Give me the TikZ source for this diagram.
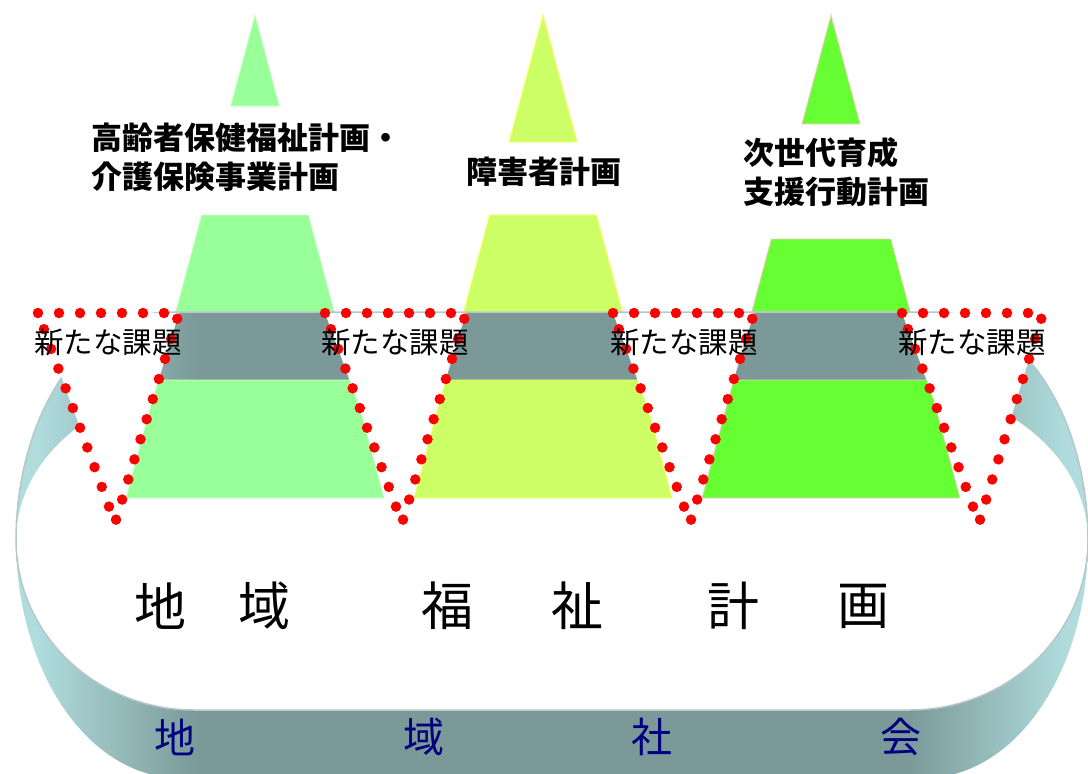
\documentclass[tikz,border=0pt]{standalone}
\usepackage{fontspec}
\newfontfamily\jp{Noto Sans CJK JP}
\usetikzlibrary{calc}
\definecolor{ringlight}{HTML}{B0DCDD}
\definecolor{ringdark}{HTML}{7A9998}
\definecolor{rimline}{HTML}{B8C8C8}
\definecolor{pgA}{HTML}{99FF99}
\definecolor{pgB}{HTML}{CCFF66}
\definecolor{pgC}{HTML}{66FF33}
\definecolor{edgeA}{HTML}{CCFFCC}
\definecolor{edgeB}{HTML}{FFFF55}
\definecolor{edgeC}{HTML}{FFC8C8}
\definecolor{dotred}{HTML}{FF0000}
\definecolor{navyblue}{HTML}{000080}
\pgfdeclarehorizontalshading{ringshade}{100bp}{color(0bp)=(ringlight); color(26bp)=(ringlight); color(33.5bp)=(ringdark); color(66.5bp)=(ringdark); color(74bp)=(ringlight); color(100bp)=(ringlight)}
\newcommand{\toprimpath}{(169,312) -- plot[domain=270:180,samples=40] ({169+153*cos(\x)},{540+228*sin(\x)}) -- plot[domain=180:90,samples=40] ({194+178*cos(\x)},{540+170*sin(\x)}) -- plot[domain=90:0,samples=40] ({910+178*cos(\x)},{540+170*sin(\x)}) -- plot[domain=360:270,samples=40] ({935+153*cos(\x)},{540+228*sin(\x)}) -- cycle}
\newcommand{\botrimpath}{(228,380) -- plot[domain=270:180,samples=40] ({228+212*cos(\x)},{540+160*sin(\x)}) -- plot[domain=180:90,samples=40] ({179+163*cos(\x)},{540+238*sin(\x)}) -- plot[domain=90:0,samples=40] ({925+163*cos(\x)},{540+238*sin(\x)}) -- plot[domain=360:270,samples=40] ({876+212*cos(\x)},{540+160*sin(\x)}) -- cycle}
\newcommand{\pyrpiece}[4]{\path[#4] ({#1-0.26708*(#2-15)},#2) -- ({#1+0.26708*(#2-15)},#2) -- ({#1+0.26708*(#3-15)},#3) -- ({#1-0.26708*(#3-15)},#3) -- cycle;}
\newcommand{\issuetri}[1]{\path[issue] ({#1-77},313) -- ({#1+64},313) -- (#1,523) -- cycle;}
\begin{document}
\begin{tikzpicture}[x=1pt,y=-1pt,
  pyrA/.style={fill=pgA, draw=edgeA, line width=0.8pt},
  pyrB/.style={fill=pgB, draw=edgeB, line width=0.8pt},
  pyrC/.style={fill=pgC, draw=edgeC, line width=0.8pt},
  issue/.style={fill=white, draw=dotred, line width=10.5pt, line cap=round, dash pattern=on 0pt off 21pt},
  issuelabel/.style={font=\jp\fontsize{29.5}{29.5}\selectfont, inner sep=0pt},
  plan/.style={font=\jp\bfseries\fontsize{31}{39}\selectfont, align=left, inner sep=0pt},
  bigchar/.style={font=\jp\fontsize{52}{52}\selectfont, inner sep=0pt},
  commchar/.style={font=\jp\fontsize{41}{41}\selectfont, text=navyblue, inner sep=0pt}]
\useasboundingbox (0,0) rectangle (1088,774);
\clip (0,0) rectangle (1088,774);
\fill[white] (0,0) rectangle (1088,774);
% ring
\shade[shading=ringshade] \toprimpath;
\shade[shading=ringshade] \botrimpath;
\begin{scope}
  \clip \toprimpath;
  \fill[white] \botrimpath;
\end{scope}
% pyramids
\pyrpiece{255}{15}{106}{pyrA}
\pyrpiece{255}{215}{312}{pyrA}
\pyrpiece{255}{380}{498}{pyrA}
\pyrpiece{543}{14}{142}{pyrB}
\pyrpiece{543}{215}{312}{pyrB}
\pyrpiece{543}{380}{498}{pyrB}
\pyrpiece{831}{14}{124}{pyrC}
\pyrpiece{831}{239}{312}{pyrC}
\pyrpiece{831}{380}{498}{pyrC}
% rim highlight
\draw[rimline, line width=1.5pt] \toprimpath;
% new issue triangles
\issuetri{115}
\issuetri{402}
\issuetri{690}
\issuetri{979}
\node[issuelabel] (i1) at (108,342) {新たな課題};
\node[issuelabel] (i2) at (395,342) {新たな課題};
\node[issuelabel] (i3) at (684,342) {新たな課題};
\node[issuelabel] (i4) at (972,342) {新たな課題};
% plan labels
\node[plan, anchor=west] (p1) at (91,157.5) {高齢者保健福祉計画・\\介護保険事業計画};
\node[plan] (p2) at (543.5,172) {障害者計画};
\node[plan, anchor=west] (p3) at (743,172) {次世代育成\\支援行動計画};
% big title
\node[bigchar] (t1) at (160,606) {地};
\node[bigchar] (t2) at (264,606) {域};
\node[bigchar] (t3) at (447,606) {福};
\node[bigchar] (t4) at (577,606) {祉};
\node[bigchar] (t5) at (733,606) {計};
\node[bigchar] (t6) at (863,606) {画};
% community
\node[commchar] (c1) at (175,737) {地};
\node[commchar] (c2) at (424,737) {域};
\node[commchar] (c3) at (652,737) {社};
\node[commchar] (c4) at (901,737) {会};
\end{tikzpicture}
\end{document}
